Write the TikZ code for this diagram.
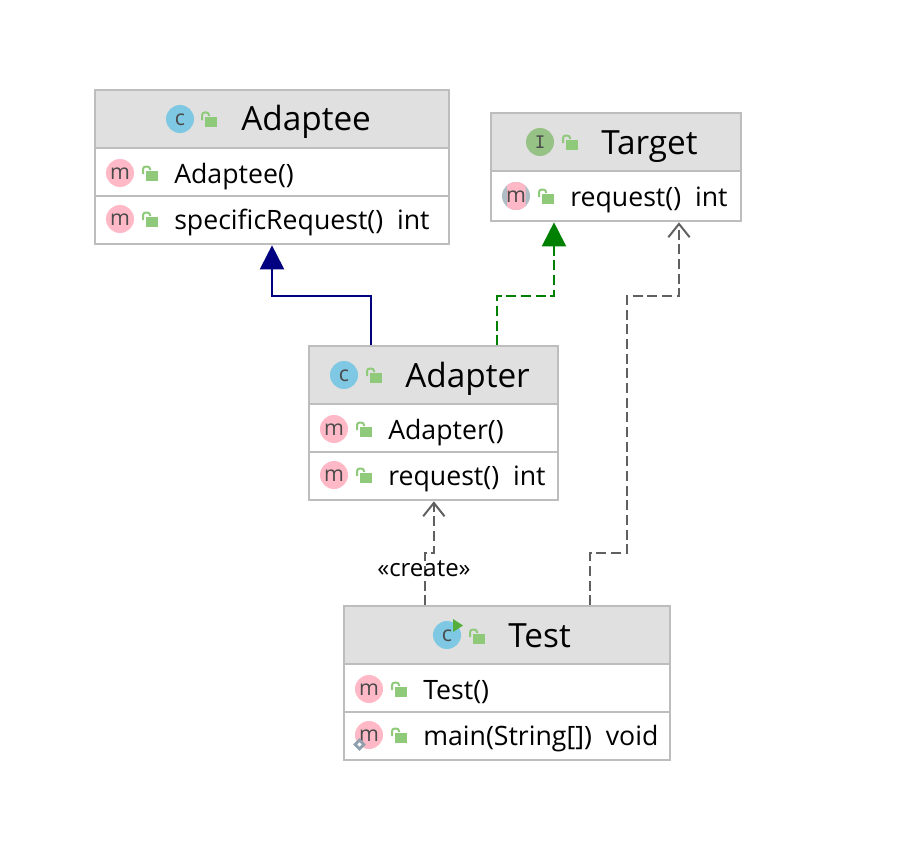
\documentclass[tikz,border=0pt]{standalone}
\usepackage{fontspec}
\setmainfont{Open Sans}
\newfontfamily\slabfont{DejaVu Sans Mono}
\usepackage{tikz}
\usetikzlibrary{arrows.meta, shapes.geometric}
\definecolor{headgray}{HTML}{E0E0E0}
\definecolor{boxgray}{HTML}{BDBDBD}
\definecolor{classblue}{HTML}{7EC8E3}
\definecolor{methodpink}{HTML}{FFB8C6}
\definecolor{lockgreen}{HTML}{8FCA7A}
\definecolor{ifacegreen}{HTML}{97C285}
\definecolor{ringgray}{HTML}{AFBDC6}
\definecolor{staticgray}{HTML}{8FA0AE}
\definecolor{playgreen}{HTML}{55AE3A}
\definecolor{glyphgray}{HTML}{4A4A4A}
\definecolor{linkgray}{HTML}{606060}

\begin{document}
\begin{tikzpicture}[
    x=0.75pt, y=-0.75pt,
    box/.style={draw=boxgray, line width=1.5pt, rectangle, inner sep=0pt, xshift=-0.5pt, yshift=0.5pt},
    head/.style={box, fill=headgray},
    row/.style={box, fill=white},
    title/.style={anchor=base west, inner sep=0pt, font=\fontsize{25}{25}\selectfont, text=black},
    member/.style={anchor=base west, inner sep=0pt, font=\fontsize{20}{20}\selectfont, text=black},
    badge/.style={circle, minimum size=21pt, inner sep=0pt, text=glyphgray, text height=10pt, text depth=0pt, font=\fontsize{16}{16}\selectfont},
    classbadge/.style={badge, fill=classblue},
    methodbadge/.style={badge, fill=methodpink},
    ifacebadge/.style={badge, fill=ifacegreen, text height=10pt, font=\slabfont\fontsize{13}{13}\selectfont},
    extends/.style={draw=blue!50!black, line width=1.5pt, -{Triangle[length=18pt, width=18pt]}},
    implements/.style={draw=green!50!black, line width=1.5pt, dash pattern=on 7.5pt off 3.5pt, -{Triangle[length=18pt, width=18pt]}},
    depends/.style={draw=linkgray, line width=1.5pt, dash pattern=on 7.5pt off 3.5pt, -{Straight Barb[length=10pt, width=16pt]}},
    lock/.pic={
        \fill[lockgreen] (0,0) rectangle (12,-10);
        \draw[lockgreen, line width=1.5pt, rounded corners=2pt] (-3,-7) -- (-3,-14.5) -- (4,-14.5) -- (4,-11);
    }
]
\useasboundingbox (0,0) rectangle (914,856);

% Adaptee
\node[head, minimum width=265pt, minimum height=43.5pt, anchor=north west] (adapteeHead) at (95,90) {};
\node[row, minimum width=265pt, minimum height=36pt, anchor=north west] (adapteeCtor) at (95,148) {};
\node[row, minimum width=265pt, minimum height=36pt, anchor=north west] (adapteeLow) at (95,196) {};
\node[classbadge] (adapteeIcon) at (180,119) {c};
\pic at (205,127) {lock};
\node[title] (adapteeName) at (241,131) {Adaptee};
\node[methodbadge] (adapteeM1) at (120,173) {m};
\pic at (146,181) {lock};
\node[member] (adapteeT1) at (174,183) {Adaptee()};
\node[methodbadge] (adapteeM2) at (120,219) {m};
\pic at (146,227) {lock};
\node[member] (adapteeT2) at (174,229) {specificRequest()~~int};

% Target
\node[head, minimum width=187.5pt, minimum height=43.5pt, anchor=north west] (targetHead) at (491,113) {};
\node[row, minimum width=187.5pt, minimum height=37.5pt, anchor=north west] (targetLow) at (491,171) {};
\node[ifacebadge] (targetIcon) at (540,142) {I};
\pic at (566,150) {lock};
\node[title] (targetName) at (601,154) {Target};
\node[badge, fill=ringgray] (targetM) at (516,196) {};
\begin{scope}
    \clip (507,180) rectangle (525.5,212);
    \fill[methodpink] (516,196) circle[radius=14];
\end{scope}
\node[text=glyphgray, inner sep=0pt, font=\fontsize{16}{16}\selectfont] (targetGlyph) at (516,197) {m};
\pic at (542,204) {lock};
\node[member] (targetT1) at (570,206) {request()~~int};

% Adapter
\node[head, minimum width=186.75pt, minimum height=43.5pt, anchor=north west] (adapterHead) at (309,346) {};
\node[row, minimum width=186.75pt, minimum height=36pt, anchor=north west] (adapterCtor) at (309,404) {};
\node[row, minimum width=186.75pt, minimum height=36pt, anchor=north west] (adapterLow) at (309,452) {};
\node[classbadge] (adapterIcon) at (344,375) {c};
\pic at (370,383) {lock};
\node[title] (adapterName) at (405,387) {Adapter};
\node[methodbadge] (adapterM1) at (334,429) {m};
\pic at (360,437) {lock};
\node[member] (adapterT1) at (388,439) {Adapter()};
\node[methodbadge] (adapterM2) at (334,475) {m};
\pic at (360,483) {lock};
\node[member] (adapterT2) at (388,485) {request()~~int};

% Test
\node[head, minimum width=244.5pt, minimum height=43.5pt, anchor=north west] (testHead) at (344,606) {};
\node[row, minimum width=244.5pt, minimum height=36pt, anchor=north west] (testCtor) at (344,664) {};
\node[row, minimum width=244.5pt, minimum height=36pt, anchor=north west] (testLow) at (344,712) {};
\node[classbadge] (testIcon) at (447,635) {c};
\fill[playgreen] (453,619) -- (463,625.5) -- (453,632) -- cycle;
\pic at (473,644) {lock};
\node[title] (testName) at (508,647) {Test};
\node[methodbadge] (testM1) at (369,689) {m};
\pic at (395,697) {lock};
\node[member] (testT1) at (423,699) {Test()};
\node[methodbadge] (testM2) at (369,735) {m};
\node[diamond, draw=staticgray, line width=2.2pt, fill=white, minimum size=7.5pt, inner sep=0pt] (testStatic) at (359.5,744.5) {};
\pic at (395,743) {lock};
\node[member] (testT2) at (423,745) {main(String[])~~void};

% Relations
\coordinate (adapterBend) at (371,296);
\coordinate (targetBend) at (497,296);
\coordinate (testBend) at (590,553);
\coordinate (testRise) at (627,296);
\coordinate (createBend) at (425,553);
\draw[extends] (adapterHead.north -| adapterBend) -- (adapterBend) -- (adapterBend -| adapteeLow.south) -- (adapteeLow.south);
\draw[implements] (adapterHead.north -| targetBend) -- (targetBend) -- (554,296) -- (targetLow.south -| 554,296);
\draw[depends] (testHead.north -| testBend) -- (testBend) -- (testBend -| testRise) -- (testRise) -- (679,296) -- (targetLow.south -| 679,296);
\draw[depends] (testHead.north -| createBend) -- (createBend) -- (createBend -| adapterLow.south) -- (adapterLow.south);
\node[inner sep=0pt, font=\fontsize{18}{18}\selectfont] (createLabel) at (424,569) {«create»};
\end{tikzpicture}
\end{document}
